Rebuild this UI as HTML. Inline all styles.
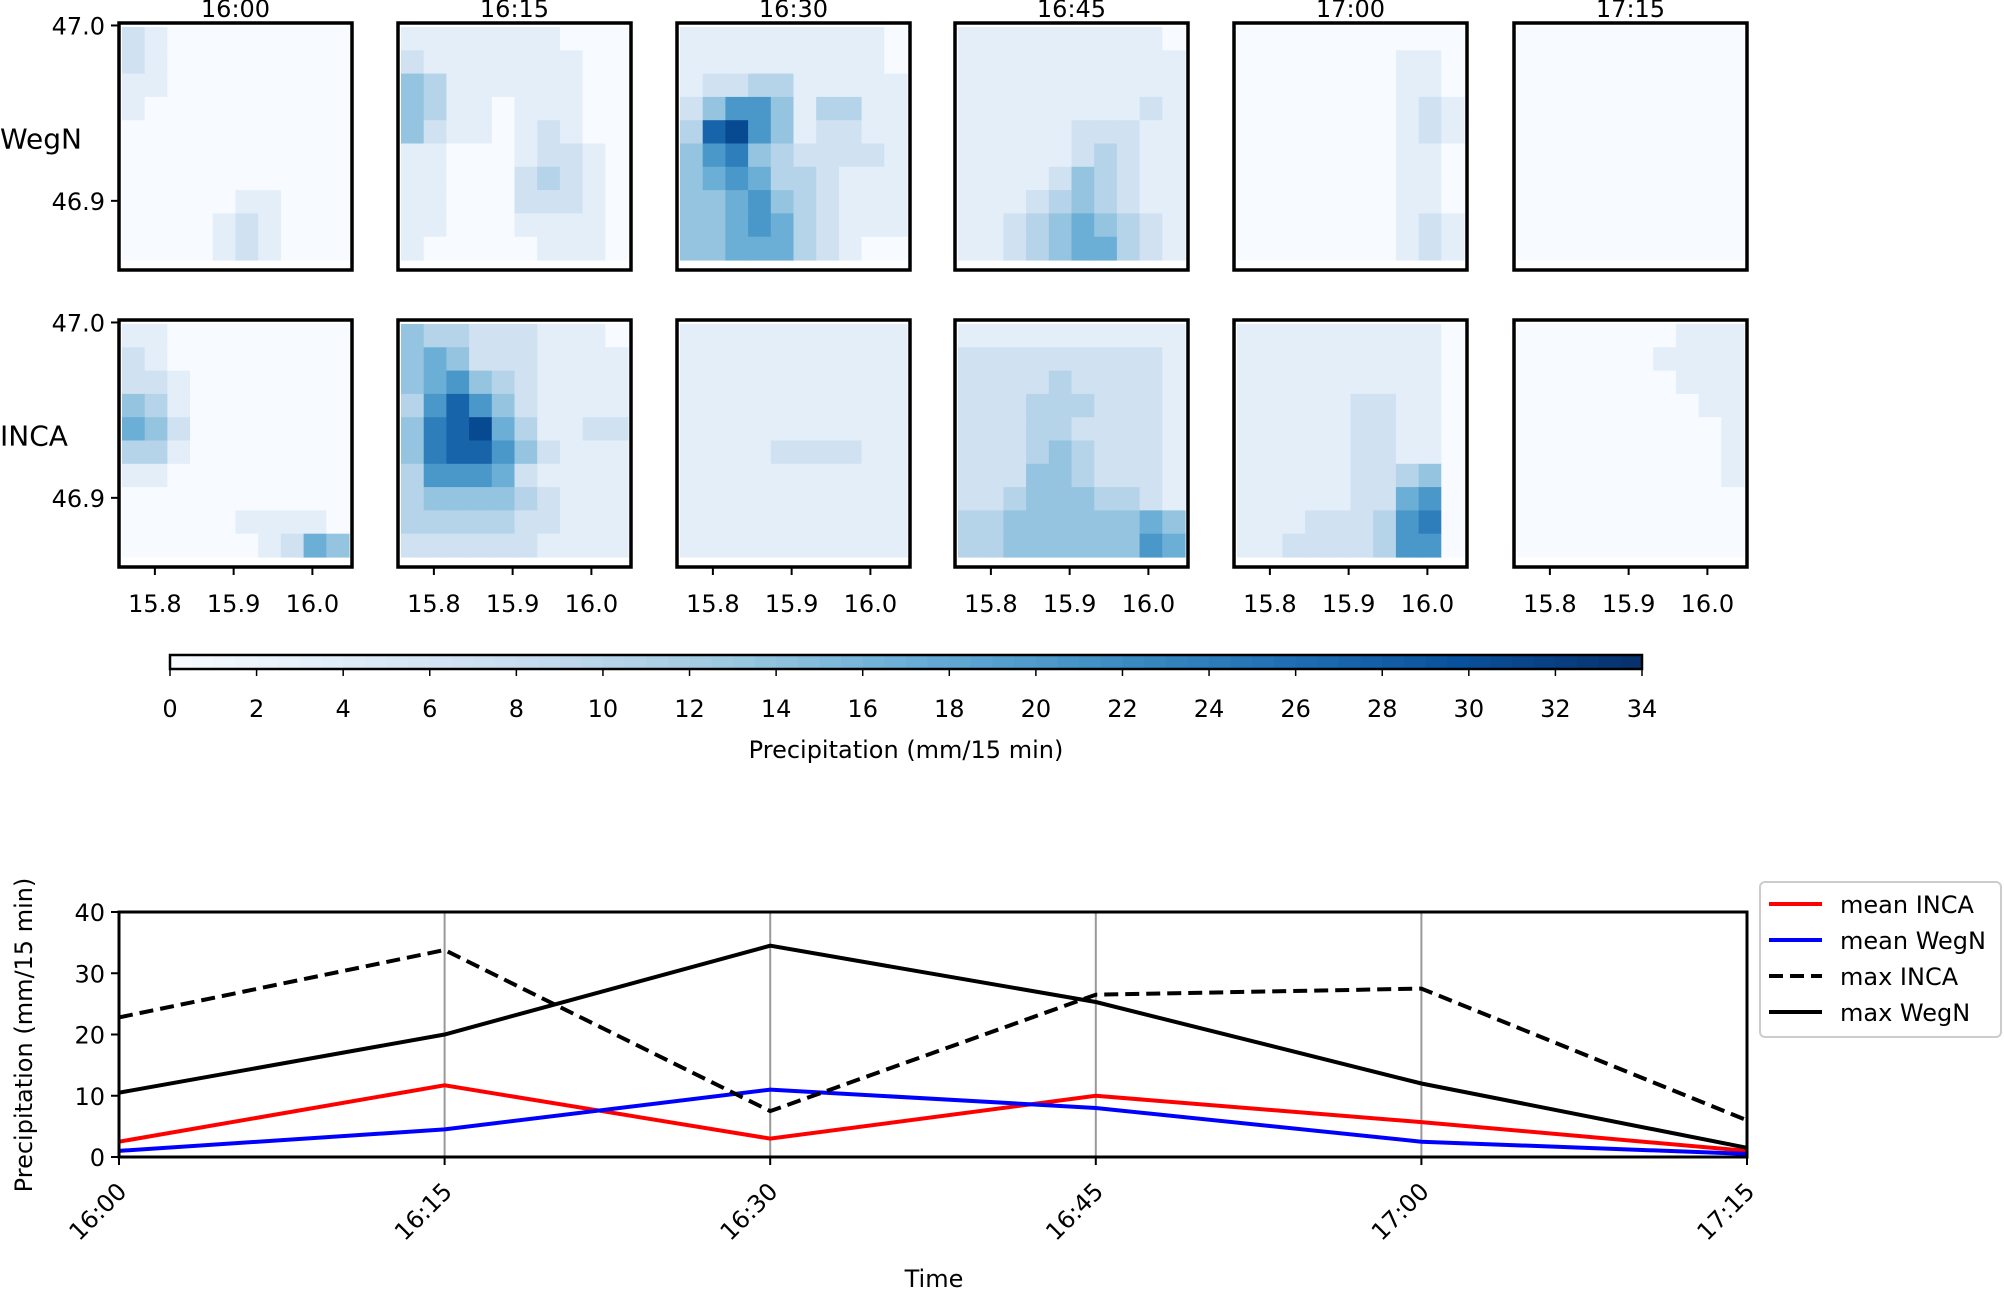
<!DOCTYPE html>
<html><head><meta charset="utf-8"><style>
html,body{margin:0;padding:0;background:#fff}
svg{display:block;font-family:"DejaVu Sans","Liberation Sans",sans-serif}
</style></head><body>
<svg id="fig" width="2004" height="1289" viewBox="0 0 2004 1289" xmlns="http://www.w3.org/2000/svg"></svg>
<script>
const times = ["16:00","16:15","16:30","16:45","17:00","17:15"];
const rowNames = ["WegN","INCA"];
const lonTicks = [15.8,15.9,16.0];
const latTicks = [47.0,46.9];
const cbTicks = [0,2,4,6,8,10,12,14,16,18,20,22,24,26,28,30,32,34];
const yTicks = [0,10,20,30,40];
const meanINCA = [2.5,11.7,3.0,10.0,5.7,1.0];
const meanWegN = [1.0,4.5,11.0,8.0,2.5,0.5];
const maxINCA = [22.8,33.8,7.5,26.5,27.5,6.0];
const maxWegN = [10.5,20.0,34.5,25.3,12.0,1.5];
// heatmap grids: digits 0-9, each digit = 3.4 mm/15min
const gridWegN = [
["2100000000","2100000000","1100000000","1000000000","0000000000","0000000000","0000000000","0000011000","0000121000","0000121000"],
["1111111000","2111111100","4311111100","4311011100","4211012100","1100012210","1100023210","1100022210","1100011110","1000001110"],
["1111111110","1111111110","1223311111","2466413311","3896412211","4674322221","4565332111","4456432111","4456532111","4455532100"],
["1111111110","1111111111","1111111111","1111111121","1111122211","1111123211","1111243211","1112343211","1123454321","1123455321"],
["0000000000","0000000110","0000000110","0000000121","0000000121","0000000110","0000000110","0000000110","0000000121","0000000121"],
["0000000000","0000000000","0000000000","0000000000","0000000000","0000000000","0000000000","0000000000","0000000000","0000000000"]];
const gridINCA = [
["1100000000","2100000000","2210000000","4310000000","5420000000","3310000000","1100000000","0000000000","0000011110","0000001254"],
["4332221110","4542221111","4564321111","3686421111","4789531122","4788642111","3666521111","3444432111","3333322111","2222221111"],
["1111111111","1111111111","1111111111","1111111111","1111111111","1111222211","1111111111","1111111111","1111111111","1111111111"],
["1111111111","2222222221","2222322221","2223332221","2223322221","2223432221","2224432221","2234443321","3344444454","3344444465"],
["1111111110","1111111110","1111111110","1111122110","1111122110","1111122110","1111122340","1111122560","1112223670","1122223660"],
["0000000111","0000001111","0000000111","0000000011","0000000001","0000000001","0000000001","0000000000","0000000000","0000000000"]];

const NS="http://www.w3.org/2000/svg", svg=document.getElementById('fig');
function mk(tag,attrs,parent){const e=document.createElementNS(NS,tag);for(const k in attrs)e.setAttribute(k,attrs[k]);(parent||svg).appendChild(e);return e;}
const stops=["#f7fbff","#deebf7","#c6dbef","#9ecae1","#6baed6","#4292c6","#2171b5","#08519c","#08306b"];
function hex(h){return [1,3,5].map(i=>parseInt(h.substr(i,2),16));}
function cmap(v){let t=Math.max(0,Math.min(1,v/34))*8;let i=Math.min(7,Math.floor(t)),f=t-i;const a=hex(stops[i]),b=hex(stops[i+1]);return "rgb("+a.map((x,j)=>Math.round(x+(b[j]-x)*f)).join(",")+")";}

const panelX=[119,398,677,955,1234,1514], panelY=[23,320], PW=233, PH=247;
function lonX(px,v){return px+PW*(0.154+(v-15.8)/0.1*0.338);}
function latY(py,v){return py+PH*(0.01+(47.0-v)/0.1*0.71);}

for(let r=0;r<2;r++){
  const grids = r===0?gridWegN:gridINCA;
  for(let c=0;c<6;c++){
    const px=panelX[c], py=panelY[r];
    const g=mk('g',{});
    
    
    mk('rect',{x:px,y:py,width:PW,height:PH,fill:'#fff'},g);
    const grid=grids[c], n=grid.length, cw=(PW-6)/10, ch=(PH-14)/n;
    for(let i=0;i<n;i++)for(let j=0;j<10;j++){
      const v=parseInt(grid[i][j])*3.4;
      const cell=mk('rect',{x:(px+3+j*cw).toFixed(1),y:(py+4+i*ch).toFixed(1),width:(cw+0.6).toFixed(1),height:(ch+0.6).toFixed(1),fill:cmap(v)},g);
      
      
    }
    mk('rect',{x:px,y:py,width:PW,height:PH,fill:'none',stroke:'#000','stroke-width':3.5},g);
    if(r===0){const t=mk('text',{x:px+PW/2,y:17,'text-anchor':'middle','font-size':24},g);t.textContent=times[c];
      }
    if(c===0){
      latTicks.forEach(v=>{const y=latY(py,v);mk('line',{x1:px-8,x2:px,y1:y,y2:y,stroke:'#000','stroke-width':2},g);
        const t=mk('text',{x:px-14,y:y+9,'text-anchor':'end','font-size':24},g);t.textContent=v.toFixed(1);
        });
      const rl=mk('text',{x:0,y:py+PH/2+2,'font-size':28},g);rl.textContent=rowNames[r];
      
    }
    if(r===1){
      lonTicks.forEach(v=>{const x=lonX(px,v);mk('line',{x1:x,x2:x,y1:py+PH,y2:py+PH+8,stroke:'#000','stroke-width':2},g);
        const t=mk('text',{x:x,y:py+PH+45,'text-anchor':'middle','font-size':24},g);t.textContent=v.toFixed(1);
        });
    }
  }
}
// colorbar
const cb=mk('g',{});
const cbX0=170,cbX1=1642,cbY=655,cbH=14;
function cbx(v){return cbX0+(cbX1-cbX0)*v/34;}
for(let k=0;k<68;k++){mk('rect',{x:cbx(k*0.5).toFixed(1),y:cbY,width:((cbX1-cbX0)/68+0.6).toFixed(1),height:cbH,fill:cmap(k*0.5+0.25)},cb);}
mk('rect',{x:cbX0,y:cbY,width:cbX1-cbX0,height:cbH,fill:'none',stroke:'#000','stroke-width':2.5},cb);
cbTicks.forEach(v=>{const x=cbx(v);mk('line',{x1:x,x2:x,y1:cbY+cbH,y2:cbY+cbH+7,stroke:'#000','stroke-width':1.5},cb);
  const t=mk('text',{x:x,y:717,'text-anchor':'middle','font-size':24},cb);t.textContent=v;
  });
const cbl=mk('text',{x:(cbX0+cbX1)/2,y:758,'text-anchor':'middle','font-size':24},cb);cbl.textContent='Precipitation (mm/15 min)';


// line chart
const L=119,R=1747,T=912,B=1157;
function xs(i){return L+(R-L)*i/5;}
function ys(v){return B-(B-T)*v/40;}
const lc=mk('g',{});
for(let i=1;i<5;i++){const gl=mk('line',{x1:xs(i),x2:xs(i),y1:T,y2:B,stroke:'#999','stroke-width':2},lc);
  }
const series=[[meanINCA,'#ff0000','','mean INCA'],[meanWegN,'#0000ff','','mean WegN'],[maxINCA,'#000','14,7','max INCA'],[maxWegN,'#000','','max WegN']];
series.forEach(s=>{const p=mk('polyline',{points:s[0].map((v,i)=>xs(i).toFixed(1)+','+ys(v).toFixed(1)).join(' '),fill:'none',stroke:s[1],'stroke-width':4,'stroke-dasharray':s[2]||'none'},lc);
  });
mk('rect',{x:L,y:T,width:R-L,height:B-T,fill:'none',stroke:'#000','stroke-width':3},lc);
yTicks.forEach(v=>{const y=ys(v);mk('line',{x1:L-8,x2:L,y1:y,y2:y,stroke:'#000','stroke-width':2},lc);
  const t=mk('text',{x:L-14,y:y+9,'text-anchor':'end','font-size':24},lc);t.textContent=v;
  });
times.forEach((tm,i)=>{const x=xs(i);mk('line',{x1:x,x2:x,y1:B,y2:B+8,stroke:'#000','stroke-width':2},lc);
  const t=mk('text',{x:x+9,y:B+36,'text-anchor':'end','font-size':24,transform:'rotate(-45 '+(x+9)+' '+(B+36)+')'},lc);t.textContent=tm;
  });
const yl=mk('text',{x:32,y:1035,'text-anchor':'middle','font-size':24,transform:'rotate(-90 32 1035)'},lc);yl.textContent='Precipitation (mm/15 min)';

const xl=mk('text',{x:934,y:1287,'text-anchor':'middle','font-size':24},lc);xl.textContent='Time';

// legend
const lg=mk('g',{});
mk('rect',{x:1760,y:882,width:241,height:155,rx:5,fill:'#fff',stroke:'#ccc','stroke-width':2},lg);
series.forEach((s,i)=>{const y=904+i*36;
  mk('line',{x1:1769,x2:1822,y1:y,y2:y,stroke:s[1],'stroke-width':4,'stroke-dasharray':s[2]||'none'},lg);
  const t=mk('text',{x:1840,y:y+9,'font-size':24},lg);t.textContent=s[3];
  });
</script>
</body></html>
